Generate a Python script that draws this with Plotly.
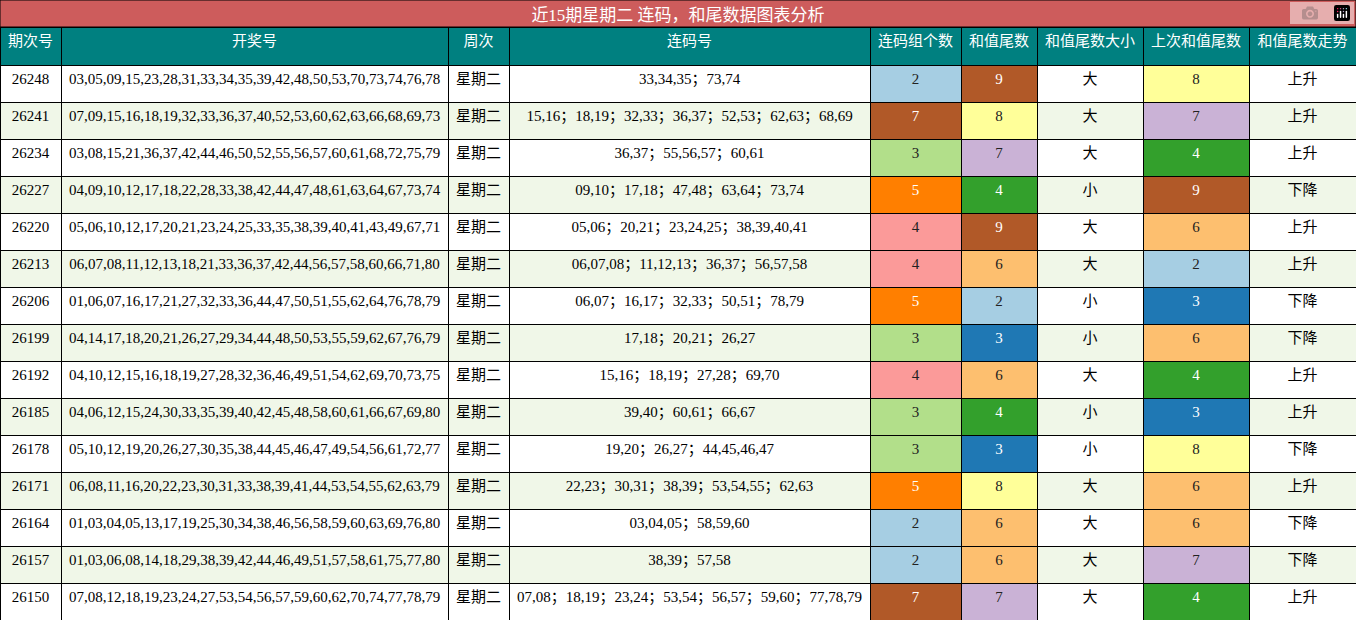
import plotly.graph_objects as go

issues = ["26248", "26241", "26234", "26227", "26220", "26213", "26206", "26199",
          "26192", "26185", "26178", "26171", "26164", "26157", "26150"]
draws = [
    "03,05,09,15,23,28,31,33,34,35,39,42,48,50,53,70,73,74,76,78",
    "07,09,15,16,18,19,32,33,36,37,40,52,53,60,62,63,66,68,69,73",
    "03,08,15,21,36,37,42,44,46,50,52,55,56,57,60,61,68,72,75,79",
    "04,09,10,12,17,18,22,28,33,38,42,44,47,48,61,63,64,67,73,74",
    "05,06,10,12,17,20,21,23,24,25,33,35,38,39,40,41,43,49,67,71",
    "06,07,08,11,12,13,18,21,33,36,37,42,44,56,57,58,60,66,71,80",
    "01,06,07,16,17,21,27,32,33,36,44,47,50,51,55,62,64,76,78,79",
    "04,14,17,18,20,21,26,27,29,34,44,48,50,53,55,59,62,67,76,79",
    "04,10,12,15,16,18,19,27,28,32,36,46,49,51,54,62,69,70,73,75",
    "04,06,12,15,24,30,33,35,39,40,42,45,48,58,60,61,66,67,69,80",
    "05,10,12,19,20,26,27,30,35,38,44,45,46,47,49,54,56,61,72,77",
    "06,08,11,16,20,22,23,30,31,33,38,39,41,44,53,54,55,62,63,79",
    "01,03,04,05,13,17,19,25,30,34,38,46,56,58,59,60,63,69,76,80",
    "01,03,06,08,14,18,29,38,39,42,44,46,49,51,57,58,61,75,77,80",
    "07,08,12,18,19,23,24,27,53,54,56,57,59,60,62,70,74,77,78,79",
]
weekday = ["星期二"] * 15
runs = [
    "33,34,35；73,74",
    "15,16；18,19；32,33；36,37；52,53；62,63；68,69",
    "36,37；55,56,57；60,61",
    "09,10；17,18；47,48；63,64；73,74",
    "05,06；20,21；23,24,25；38,39,40,41",
    "06,07,08；11,12,13；36,37；56,57,58",
    "06,07；16,17；32,33；50,51；78,79",
    "17,18；20,21；26,27",
    "15,16；18,19；27,28；69,70",
    "39,40；60,61；66,67",
    "19,20；26,27；44,45,46,47",
    "22,23；30,31；38,39；53,54,55；62,63",
    "03,04,05；58,59,60",
    "38,39；57,58",
    "07,08；18,19；23,24；53,54；56,57；59,60；77,78,79",
]
run_count = [2, 7, 3, 5, 4, 4, 5, 3, 4, 3, 3, 5, 2, 2, 7]
tail = [9, 8, 7, 4, 9, 6, 2, 3, 6, 4, 3, 8, 6, 6, 7]
size = ["大", "大", "大", "小", "大", "大", "小", "小", "大", "小", "小", "大", "大", "大", "大"]
prev_tail = [8, 7, 4, 9, 6, 2, 3, 6, 4, 3, 8, 6, 6, 7, 4]
trend = ["上升", "上升", "上升", "下降", "上升", "上升", "下降", "下降", "上升", "上升",
         "下降", "上升", "下降", "下降", "上升"]

headers = ["期次号", "开奖号", "周次", "连码号", "连码组个数", "和值尾数",
           "和值尾数大小", "上次和值尾数", "和值尾数走势"]

count_colors = {2: "#a6cee3", 3: "#b2df8a", 4: "#fb9a99", 5: "#ff7f00", 7: "#b15928"}
tail_colors = {2: "#a6cee3", 3: "#1f78b4", 4: "#33a02c", 6: "#fdbf6f", 7: "#cab2d6",
               8: "#ffff99", 9: "#b15928"}
dark = {"#ff7f00", "#b15928", "#1f78b4", "#33a02c"}

row_bg = ["#ffffff" if i % 2 == 0 else "#f0f7e8" for i in range(15)]
c_count = [count_colors[v] for v in run_count]
c_tail = [tail_colors[v] for v in tail]
c_prev = [tail_colors[v] for v in prev_tail]


def txt(colors):
    return ["#ffffff" if c in dark else "#222222" for c in colors]


fill = [row_bg, row_bg, row_bg, row_bg, c_count, c_tail, row_bg, c_prev, row_bg]
fcol = [["#000000"] * 15] * 4 + [txt(c_count), txt(c_tail), ["#000000"] * 15,
                                   txt(c_prev), ["#000000"] * 15]

W, H = 1356, 620
title_h = 27
fig = go.Figure(go.Table(
    columnwidth=[61, 387, 61, 361, 91, 76, 106, 106, 107],
    domain=dict(x=[0, 1], y=[0, 1 - title_h / H]),
    header=dict(values=headers, fill_color="#008080", height=38,
                line=dict(color="#000000", width=1),
                font=dict(color="#ffffff", size=15, family="Noto Sans CJK SC"),
                align="center"),
    cells=dict(values=[issues, draws, weekday, runs, run_count, tail, size, prev_tail, trend],
               fill_color=fill, height=37,
               line=dict(color="#000000", width=1),
               font=dict(color=fcol, size=15, family="Liberation Serif, Noto Sans CJK SC"),
               align="center"),
))
fig.add_shape(type="rect", xref="paper", yref="paper", x0=0, x1=1, y0=1 - title_h / H, y1=1,
              fillcolor="#cd5c5c", line=dict(color="#000000", width=1), layer="below",
              label=dict(text="近15期星期二 连码，和尾数据图表分析",
                         textposition="middle center",
                         font=dict(color="#ffffff", size=17,
                                   family="Liberation Serif, Noto Sans CJK SC")))
fig.update_layout(width=W, height=H, margin=dict(l=0, r=0, t=0, b=0),
                  paper_bgcolor="#ffffff")
fig.write_html("out.html", post_script="document.body.style.margin='0';")
